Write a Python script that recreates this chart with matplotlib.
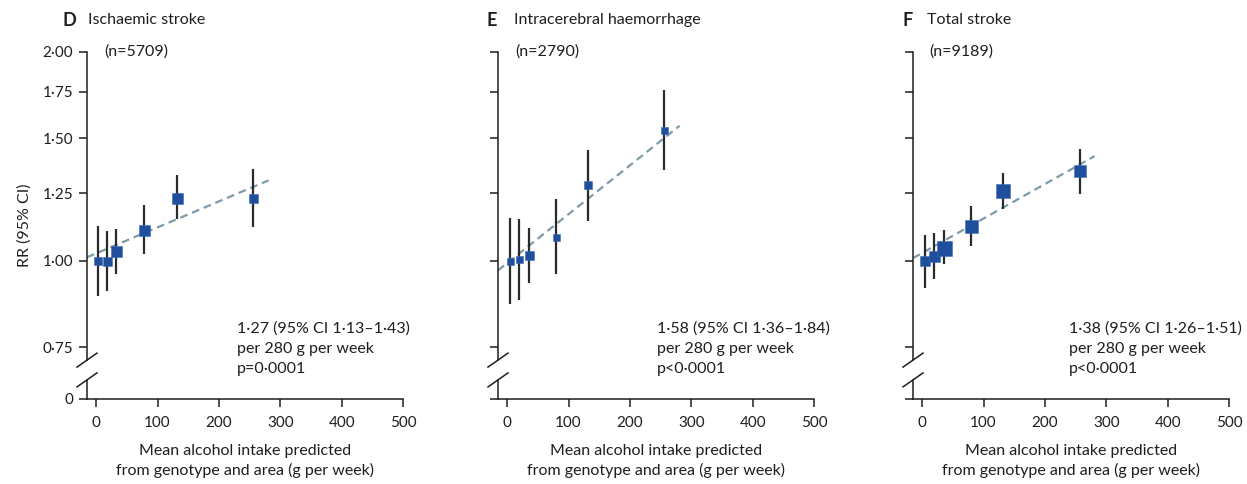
import numpy as np
import matplotlib.pyplot as plt

plt.rcParams['font.family'] = ['Lato', 'DejaVu Sans']

# panel data: mean alcohol intake (g/week), RR and 95% CI, marker size (px)
panels = ["D", "E", "F"]
titles = ["Ischaemic stroke", "Intracerebral haemorrhage", "Total stroke"]
n_cases = ["(n=5709)", "(n=2790)", "(n=9189)"]
results = [
    "1·27 (95% CI 1·13–1·43)\nper 280 g per week\np=0·0001",
    "1·58 (95% CI 1·36–1·84)\nper 280 g per week\np<0·0001",
    "1·38 (95% CI 1·26–1·51)\nper 280 g per week\np<0·0001",
]

intake_d = [3, 17, 33, 78, 131, 256]
rr_d = [1.00, 1.00, 1.033, 1.106, 1.231, 1.231]
lo_d = [0.888, 0.904, 0.955, 1.021, 1.146, 1.116]
hi_d = [1.123, 1.103, 1.112, 1.202, 1.329, 1.357]
size_d = [8, 9, 11, 11, 11, 9]

intake_e = [4, 20, 36, 79, 131, 256]
rr_e = [1.00, 1.004, 1.018, 1.082, 1.283, 1.544]
lo_e = [0.867, 0.878, 0.928, 0.955, 1.141, 1.350]
hi_e = [1.150, 1.147, 1.115, 1.227, 1.443, 1.762]
size_e = [7, 7, 9, 7, 8, 7]

intake_f = [5, 19, 35, 79, 132, 257]
rr_f = [1.00, 1.016, 1.044, 1.122, 1.260, 1.344]
lo_f = [0.912, 0.940, 0.988, 1.050, 1.186, 1.249]
hi_f = [1.088, 1.097, 1.106, 1.199, 1.339, 1.448]
size_f = [10, 11, 15, 13, 14, 12]

# fitted trend lines (end points)
trend_x = [-15, 281]
trend_d = [1.011, 1.305]
trend_e = [0.968, 1.564]
trend_f = [1.008, 1.414]

yticks = [0.75, 1.00, 1.25, 1.50, 1.75, 2.00]
ytick_labels = ["0·75", "1·00", "1·25", "1·50", "1·75", "2·00"]
y_zero = 0.6316  # bottom of broken axis, labelled "0"

data = [
    (intake_d, rr_d, lo_d, hi_d, size_d, trend_d),
    (intake_e, rr_e, lo_e, hi_e, size_e, trend_e),
    (intake_f, rr_f, lo_f, hi_f, size_f, trend_f),
]

W, H = 1247, 484
fig = plt.figure(figsize=(W / 100, H / 100), dpi=100)

ax_left = [87, 498, 913]
title_x = [88, 514, 927]
letter_x = [62, 487, 903]
n_x = [104, 515, 929]
res_x = [237, 657, 1069]
ax_w, ax_top, ax_bot = 316, 51.7, 399

ink = "#1e1e1e"
blue = "#1f4f9c"
trend_col = "#7f9aa8"
fs = 11.5

for i in range(3):
    x, rr, lo, hi, sz, tr = data[i]
    ax = fig.add_axes([ax_left[i] / W, 1 - ax_bot / H, ax_w / W, (ax_bot - ax_top) / H])
    ax.set_yscale("log")
    ax.set_xlim(-15, 500)
    ax.set_ylim(y_zero, 2.0)

    ax.plot(trend_x, tr, ls=(0, (3.5, 2.2)), color=trend_col, lw=1.6, zorder=2)
    for xi, r, l, h, s in zip(x, rr, lo, hi, sz):
        ax.plot([xi, xi], [l, h], color="#2a2a2a", lw=1.6, zorder=3, solid_capstyle="butt")
        ax.plot(xi, r, marker="s", ms=s * 0.72, color=blue, mec="#3d6cb5", mew=0.4, zorder=4)

    ax.yaxis.set_major_locator(plt.FixedLocator([y_zero] + yticks))
    ax.yaxis.set_minor_locator(plt.NullLocator())
    if i == 0:
        ax.set_yticklabels(["0"] + ytick_labels)
        ax.set_ylabel("RR (95% CI)", fontsize=fs, labelpad=8, color=ink)
    else:
        ax.set_yticklabels([])
    ax.set_xticks([0, 100, 200, 300, 400, 500])
    ax.set_xticklabels(["0", "100", "200", "300", "400", "500"])
    ax.tick_params(axis="both", direction="out", length=6, width=1.1, color=ink,
                   labelsize=11, labelcolor=ink, pad=4)
    ax.tick_params(axis="x", pad=6)

    for side in ["top", "right", "left"]:
        ax.spines[side].set_visible(False)
    ax.spines["bottom"].set_linewidth(1.1)
    ax.spines["bottom"].set_color(ink)

    # broken left spine
    tr_ax = ax.transAxes
    b1, b2 = 0.112, 0.055
    ax.plot([0, 0], [b1, 1], color=ink, lw=1.1, transform=tr_ax, clip_on=False)
    ax.plot([0, 0], [0, b2], color=ink, lw=1.1, transform=tr_ax, clip_on=False)
    dx, dy = 10 / ax_w, 7 / (ax_bot - ax_top)
    for yb in (b1, b2):
        ax.plot([-dx, dx], [yb - dy, yb + dy], color=ink, lw=1.1, transform=tr_ax, clip_on=False)

    ax.set_xlabel("Mean alcohol intake predicted\nfrom genotype and area (g per week)",
                  fontsize=fs, color=ink, labelpad=10, linespacing=1.45)

    fig.text(letter_x[i] / W, 1 - 20 / H, panels[i], fontsize=13, fontweight="bold",
             color=ink, va="center", ha="left")
    fig.text(title_x[i] / W, 1 - 20 / H, titles[i], fontsize=fs, color=ink,
             va="center", ha="left")
    fig.text(n_x[i] / W, 1 - 52 / H, n_cases[i], fontsize=fs, color=ink,
             va="center", ha="left")
    fig.text(res_x[i] / W, 1 - 349 / H, results[i], fontsize=fs, color=ink,
             va="center", ha="left", linespacing=1.55)

fig.savefig("out.png", dpi=100)
